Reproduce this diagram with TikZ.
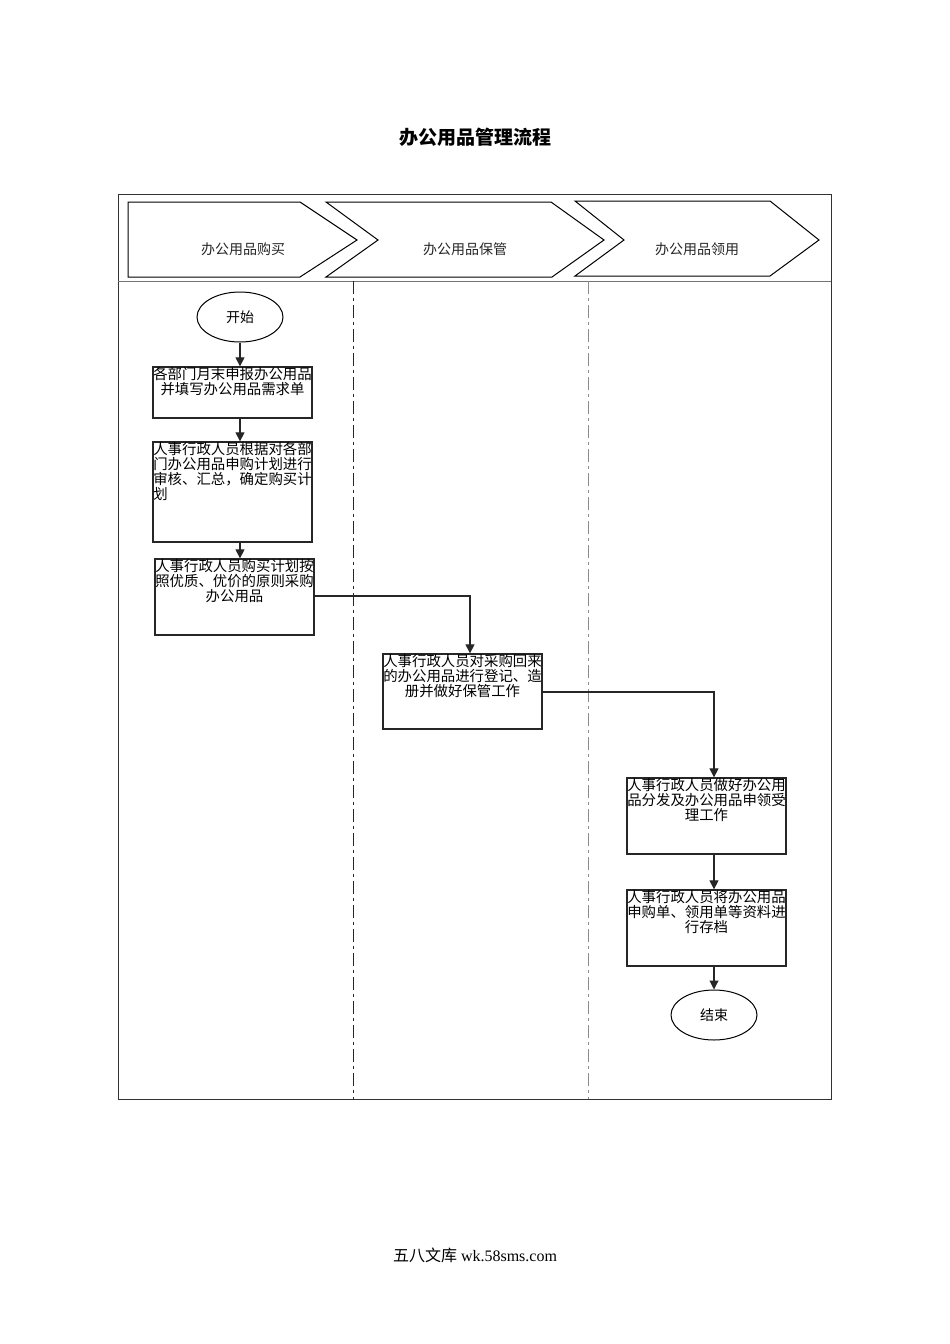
\documentclass[tikz,border=0pt]{standalone}
\usepackage{fontspec}
\setmainfont{Liberation Serif}
\newfontfamily\cjk{Noto Sans CJK SC}
\usetikzlibrary{arrows.meta,shapes.geometric}

\begin{document}
\begin{tikzpicture}[x=1pt, y=-1pt,
                    proc_box/.style={rectangle, draw=black!85, line width=1.3pt, minimum width=159pt, inner sep=0pt},
                    proc_text/.style={anchor=north, inner sep=1pt, align=center, font=\cjk\fontsize{14.4}{14.8}\selectfont},
                    term_node/.style={ellipse, draw=black, line width=1pt, minimum width=86pt, minimum height=50pt, inner sep=0pt, font=\cjk\fontsize{14}{16}\selectfont},
                    stage_text/.style={font=\cjk\fontsize{14}{16}\selectfont, text=black!85},
                    flow_arrow/.style={draw=black!85, line width=1.1pt, -{Triangle[width=9pt,length=9pt]}},
                    lane_line/.style={line width=1pt, dash pattern=on 13pt off 4pt on 3pt off 4pt}
                ]
                    \useasboundingbox (0,0) rectangle (950,1344);

                    % title and frame
                    \node[font=\cjk\bfseries\fontsize{19}{22}\selectfont] (title) at (475,137) {办公用品管理流程};
                    \draw[line width=1pt, draw=black!80] (118,194) rectangle (831,1099);
                    \draw[line width=1pt, draw=black!55] (118,281) -- (831,281);
                    \draw[lane_line, draw=black!85] (353,281) -- (353,1099);
                    \draw[lane_line, draw=black!45] (588,281) -- (588,1099);

                    % stages
                    \draw[line width=1pt] (128,202) -- (300,202) -- (357,240) -- (300,277) -- (128,277) -- cycle;
                    \draw[line width=1pt] (326,202) -- (551,202) -- (604,240) -- (552,277) -- (326,277) -- (378,240) -- cycle;
                    \draw[line width=1pt] (575,201) -- (770,201) -- (819,240) -- (770,276) -- (575,276) -- (624,240) -- cycle;
                    \node[stage_text] (buy) at (243,249) {办公用品购买};
                    \node[stage_text] (keep) at (465,249) {办公用品保管};
                    \node[stage_text] (use) at (697,249) {办公用品领用};

                    % steps
                    \node[term_node] (start) at (240,317) {开始};
                    \node[proc_box, minimum height=51pt] (apply) at (232.5,392.5) {};
                    \node[proc_text] (apply_t) at (apply.north) {各部门月末申报办公用品\\并填写办公用品需求单};
                    \node[proc_box, minimum height=100pt] (check) at (232.5,492) {};
                    \node[proc_text, align=left] (check_t) at (check.north) {人事行政人员根据对各部\\门办公用品申购计划进行\\审核、汇总，确定购买计\\划};
                    \node[proc_box, minimum height=76pt] (purchase) at (234.5,597) {};
                    \node[proc_text] (purchase_t) at (purchase.north) {人事行政人员购买计划按\\照优质、优价的原则采购\\办公用品};
                    \node[proc_box, minimum height=75pt] (store) at (462.5,691.5) {};
                    \node[proc_text] (store_t) at (store.north) {人事行政人员对采购回来\\的办公用品进行登记、造\\册并做好保管工作};
                    \node[proc_box, minimum height=76pt] (issue) at (706.5,816) {};
                    \node[proc_text] (issue_t) at (issue.north) {人事行政人员做好办公用\\品分发及办公用品申领受\\理工作};
                    \node[proc_box, minimum height=76pt] (archive) at (706.5,928) {};
                    \node[proc_text] (archive_t) at (archive.north) {人事行政人员将办公用品\\申购单、领用单等资料进\\行存档};
                    \node[term_node] (end) at (714,1015) {结束};

                    % connectors
                    \coordinate (turn_a) at (470,596);
                    \coordinate (turn_b) at (714,692);
                    \draw[flow_arrow] (start) -- (start |- apply.north);
                    \draw[flow_arrow] (apply.south -| start) -- (check.north -| start);
                    \draw[flow_arrow] (check.south -| start) -- (purchase.north -| start);
                    \draw[flow_arrow] (purchase.east |- turn_a) -- (turn_a) -- (turn_a |- store.north);
                    \draw[flow_arrow] (store.east |- turn_b) -- (turn_b) -- (turn_b |- issue.north);
                    \draw[flow_arrow] (issue.south -| end) -- (archive.north -| end);
                    \draw[flow_arrow] (archive.south -| end) -- (end);

                    \node[font=\fontsize{16}{18}\selectfont] (footer) at (475,1255) {{\cjk 五八文库} wk.58sms.com};
                \end{tikzpicture}
\end{document}
